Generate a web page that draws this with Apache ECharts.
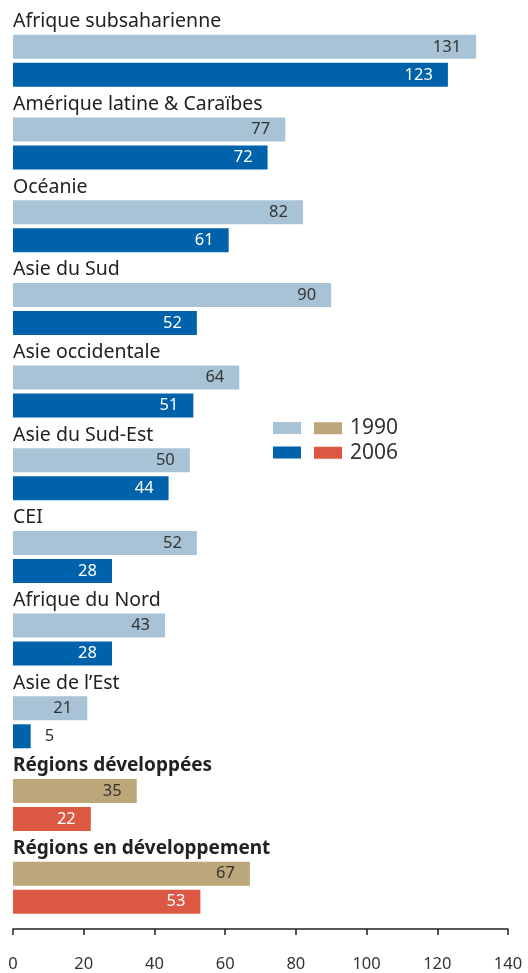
<!DOCTYPE html>
<html>
<head>
<meta charset="utf-8">
<script src="https://cdn.jsdelivr.net/npm/echarts@6/dist/echarts.min.js"></script>
<style>
  html, body { margin: 0; padding: 0; background: #fff; }
  #chart { width: 528px; height: 973px; }
</style>
</head>
<body>
<div id="chart"></div>
<script>
// données
var regions = ['Afrique subsaharienne', 'Amérique latine & Caraïbes', 'Océanie', 'Asie du Sud',
  'Asie occidentale', 'Asie du Sud-Est', 'CEI', 'Afrique du Nord', 'Asie de l\u2019Est',
  'Régions développées', 'Régions en développement'];
var boldRegions = ['Régions développées', 'Régions en développement'];
var values1990 = [131, 77, 82, 90, 64, 50, 52, 43, 21, 35, 67];
var values2006 = [123, 72, 61, 52, 51, 44, 28, 28, 5, 22, 53];
var xTicks = [0, 20, 40, 60, 80, 100, 120, 140];

var FONT = '"Noto Sans", sans-serif';
var c1990 = '#a7c3d5', c2006 = '#0062ab';
var c1990dev = '#bca77a', c2006dev = '#dd5843';

function buildData(vals, col, colDev, textCol) {
  return vals.map(function (v, i) {
    var dev = boldRegions.indexOf(regions[i]) >= 0;
    var item = { value: v, itemStyle: { color: dev ? colDev : col },
      label: { color: textCol } };
    // petite barre : étiquette à l'extérieur
    if (v < 10) {
      item.label = { position: 'right', distance: 14, color: '#333' };
    }
    return item;
  });
}

var myChart = echarts.init(document.getElementById('chart'));
var option = {
  animation: false,
  grid: { left: 13, right: 20, top: 19.5, bottom: 40.5, containLabel: false },
  legend: {
    data: [
      { name: '1990', itemStyle: { color: c1990dev } },
      { name: '2006', itemStyle: { color: c2006dev } }
    ],
    orient: 'vertical',
    left: 309, top: 411,
    itemWidth: 28, itemHeight: 12, itemGap: 0, icon: 'rect',
    textStyle: { fontFamily: FONT, fontSize: 21, lineHeight: 24.5, color: '#333', padding: [0, 0, 0, 3] },
    selectedMode: false
  },
  graphic: [
    { type: 'rect', left: 273, top: 422, shape: { width: 28, height: 12 }, style: { fill: c1990 } },
    { type: 'rect', left: 273, top: 446.5, shape: { width: 28, height: 12 }, style: { fill: c2006 } }
  ],
  xAxis: {
    type: 'value', min: 0, max: 140, interval: 20,
    position: 'bottom',
    splitLine: { show: false },
    axisLine: { show: true, lineStyle: { color: '#222', width: 1.5 } },
    axisTick: { show: true, length: 6, inside: false, lineStyle: { color: '#222', width: 1.5 } },
    axisLabel: {
      fontFamily: FONT, fontSize: 16.5, color: '#333', margin: 27,
      formatter: function (v) { return xTicks.indexOf(v) >= 0 ? String(v) : ''; }
    }
  },
  yAxis: {
    type: 'category', data: regions, inverse: true,
    axisLine: { show: false }, axisTick: { show: false },
    axisLabel: {
      inside: true, align: 'left', verticalAlign: 'middle', margin: 0,
      padding: [0, 0, 78, 0],
      formatter: function (v) {
        return boldRegions.indexOf(v) >= 0 ? '{b|' + v + '}' : '{n|' + v + '}';
      },
      rich: {
        n: { fontFamily: FONT, fontSize: 19.5, color: '#222' },
        b: { fontFamily: FONT, fontSize: 19, fontWeight: 'bold', color: '#222' }
      }
    },
    z: 10
  },
  series: [
    {
      name: '1990', type: 'bar', barWidth: 24, barGap: '16.7%',
      itemStyle: { color: c1990 },
      label: { show: true, position: 'insideRight', distance: 15,
        fontFamily: FONT, fontSize: 16.5, color: '#333' },
      data: buildData(values1990, c1990, c1990dev, '#333')
    },
    {
      name: '2006', type: 'bar', barWidth: 24, barGap: '16.7%',
      itemStyle: { color: c2006 },
      label: { show: true, position: 'insideRight', distance: 15,
        fontFamily: FONT, fontSize: 16.5, color: '#fff' },
      data: buildData(values2006, c2006, c2006dev, '#fff')
    }
  ]
};
myChart.setOption(option);
</script>
</body>
</html>
